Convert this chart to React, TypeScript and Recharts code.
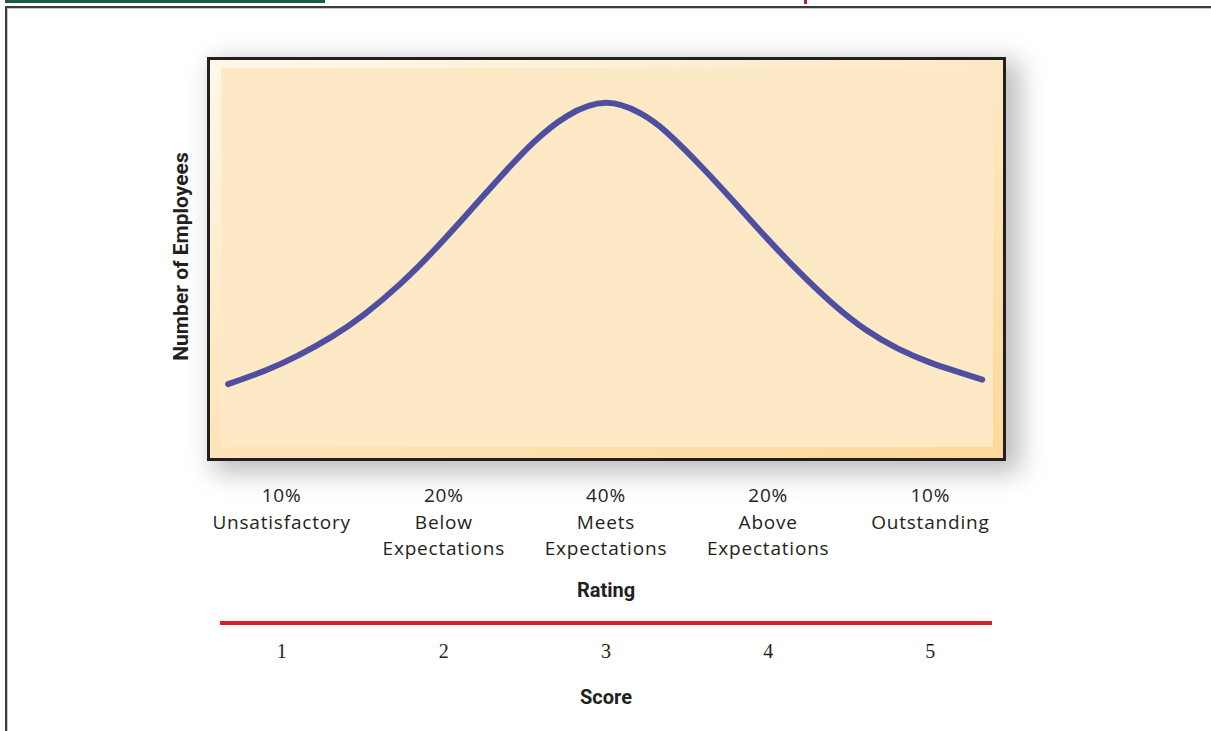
import React from 'react';
import { LineChart, Line, XAxis, YAxis, Label } from 'recharts';

// curve: x is in score units, y is relative number of employees
const curveScore = [0.67, 0.9, 1.1, 1.31, 1.51, 1.73, 1.94, 2.14, 2.35, 2.55, 2.76, 3.0, 3.21, 3.37, 3.58, 3.79, 3.99, 4.2, 4.4, 4.6, 4.8, 5.0, 5.16, 5.32];
const curveEmployees = [20.8, 24.1, 27.7, 32.3, 37.7, 45.0, 53.2, 61.8, 71.0, 79.2, 85.7, 88.9, 86.4, 81.9, 73.8, 64.9, 56.2, 47.6, 40.2, 34.0, 29.4, 26.0, 23.9, 21.9];

const scoreTicks = [1, 2, 3, 4, 5];
const ratingPercents = ['10%', '20%', '40%', '20%', '10%'];
const ratingNames = [
  ['Unsatisfactory'],
  ['Below', 'Expectations'],
  ['Meets', 'Expectations'],
  ['Above', 'Expectations'],
  ['Outstanding'],
];

const chartData = curveScore.map((s, i) => ({ score: s, employees: curveEmployees[i] }));

const textColor = '#231f20';
const labelFont = '"Open Sans", Lato, sans-serif';
const boldFont = 'Roboto, "Liberation Sans", sans-serif';

const RatingTick = (props: any) => {
  const { x, y, index } = props;
  const lines = [ratingPercents[index], ...ratingNames[index]];
  return (
    <text
      x={x}
      y={y + 24}
      textAnchor="middle"
      fill={textColor}
      fontFamily={labelFont}
      fontSize={19}
      letterSpacing={0.8}
    >
      {lines.map((t, i) => (
        <tspan key={i} x={x} dy={i === 0 ? 0 : 26.5}>
          {t}
        </tspan>
      ))}
    </text>
  );
};

const YLabel = (props: any) => {
  const { viewBox } = props;
  const cx = viewBox.x + 21;
  const cy = viewBox.y + viewBox.height / 2 - 7;
  return (
    <text
      x={cx}
      y={cy}
      dy="0.35em"
      transform={`rotate(-90 ${cx} ${cy})`}
      textAnchor="middle"
      fill={textColor}
      fontFamily={boldFont}
      fontWeight="bold"
      fontSize={21}
    >
      Number of Employees
    </text>
  );
};

export default function App() {
  return (
    <div style={{ position: 'absolute', left: 0, top: 0, width: 1211, height: 731, overflow: 'hidden', background: '#fff' }}>
      {/* page decorations */}
      <div style={{ position: 'absolute', left: 5, top: 0, width: 320, height: 3, background: '#1b5e41' }} />
      <div style={{ position: 'absolute', left: 804, top: 0, width: 3, height: 4, background: '#b1202b' }} />
      <div
        style={{
          position: 'absolute',
          left: 5,
          top: 6,
          width: 1240,
          height: 760,
          borderTop: '2px solid #3c3c3c',
          borderLeft: '2px solid #3c3c3c',
          boxShadow: 'inset 1px 1px 0 #c8c8c8',
        }}
      />

      {/* plot frame */}
      <div
        style={{
          position: 'absolute',
          left: 207,
          top: 57,
          width: 799,
          height: 404,
          boxSizing: 'border-box',
          border: '3px solid #231f20',
          background: 'linear-gradient(160deg, #fef8ea 0%, #fde8c2 45%, #fdd899 100%)',
          boxShadow: '10px 8px 24px 4px rgba(0,0,0,0.26)',
        }}
      >
        <div style={{ position: 'absolute', left: 11, top: 8, right: 10, bottom: 11, background: '#fde9c6' }} />
      </div>

      <div style={{ position: 'absolute', left: 0, top: 0 }}>
        <LineChart width={1211} height={731} data={chartData} margin={{ top: 57, right: 219, bottom: 18, left: 160 }}>
          <YAxis
            type="number"
            domain={[0, 100]}
            width={60}
            tick={false}
            tickLine={false}
            axisLine={false}
          >
            <Label content={<YLabel />} />
          </YAxis>
          <XAxis
            xAxisId="rating"
            dataKey="score"
            type="number"
            domain={[0.62, 5.38]}
            ticks={scoreTicks}
            allowDataOverflow
            height={153}
            axisLine={false}
            tickLine={false}
            tick={<RatingTick />}
            interval={0}
          >
            <Label
              value="Rating"
              position="insideBottom"
              offset={26}
              fill={textColor}
              fontFamily={boldFont}
              fontWeight="bold"
              fontSize={20}
            />
          </XAxis>
          <XAxis
            xAxisId="score"
            dataKey="score"
            type="number"
            domain={[0.62, 5.38]}
            ticks={scoreTicks}
            allowDataOverflow
            height={90}
            axisLine={{ stroke: '#d8202b', strokeWidth: 4 }}
            tickLine={false}
            tickMargin={15}
            interval={0}
            tick={{ fill: textColor, fontFamily: '"Liberation Serif", "DejaVu Serif", serif', fontSize: 20 }}
          >
            <Label
              value="Score"
              position="insideBottom"
              offset={9}
              fill={textColor}
              fontFamily={boldFont}
              fontWeight="bold"
              fontSize={20}
            />
          </XAxis>
          <Line
            xAxisId="score"
            type="natural"
            dataKey="employees"
            stroke="#4f4fa1"
            strokeWidth={6}
            strokeLinecap="round"
            dot={false}
            activeDot={false}
            isAnimationActive={false}
          />
        </LineChart>
      </div>
    </div>
  );
}
